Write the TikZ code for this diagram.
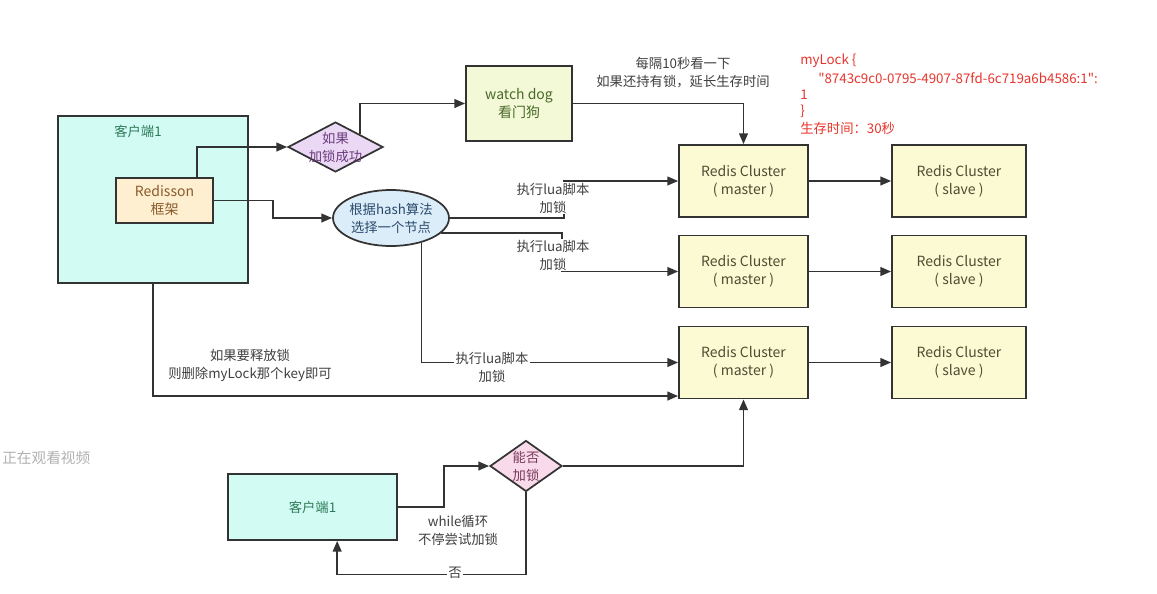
\documentclass[tikz,border=0pt]{standalone}
\usepackage{fontspec}
\setmainfont{Noto Sans CJK SC}
\newfontfamily\plainfont{Noto Sans CJK SC}[Ligatures=TeXOff]
\usetikzlibrary{shapes.geometric,arrows.meta,calc}
\definecolor{cyanfill}{HTML}{D2FBF4}
\definecolor{orfill}{HTML}{FDEFCF}
\definecolor{wdfill}{HTML}{F3F8D6}
\definecolor{ylfill}{HTML}{FCFAD2}
\definecolor{purfill}{HTML}{EBD8F4}
\definecolor{pinkfill}{HTML}{F8DAEA}
\definecolor{elfill}{HTML}{DCEDFA}
\definecolor{linec}{HTML}{333333}
\definecolor{redtxt}{HTML}{E8352C}
\definecolor{greentxt}{HTML}{2E7A58}
\definecolor{browntxt}{HTML}{8A5A2C}
\definecolor{purtxt}{HTML}{6B3A7C}
\definecolor{wdtxt}{HTML}{4A6A2A}
\definecolor{bluetxt}{HTML}{2B4A6B}
\definecolor{ctxt}{HTML}{4D4D33}
\definecolor{pinktxt}{HTML}{7A3A5C}
\tikzset{
  box/.style={draw=linec, line width=1.3pt, inner sep=0pt},
  txt/.style={font=\fontsize{10}{13.5}\selectfont, align=center, text=black!75},
  ctx/.style={font=\fontsize{10.5}{13.5}\selectfont, align=center},
  arr/.style={draw=linec, line width=1.3pt, -{Triangle[length=8pt,width=6.5pt]}},
  lbl/.style={txt, fill=white, inner sep=1pt},
  red/.style={font=\plainfont\fontsize{10}{13}\selectfont, text=redtxt, anchor=west, inner sep=0pt},
}
\begin{document}
\begin{tikzpicture}[x=0.75pt,y=-0.75pt]
\useasboundingbox (0,0) rectangle (1157,593);
\fill[white] (0,0) rectangle (1157,593);

% client 1 with Redisson
\node[box, fill=cyanfill, minimum width=142.5pt, minimum height=125.25pt] (cl) at (153,199.5) {};
\node[txt, text=greentxt] (clt) at (138,131) {客户端1};
\node[box, fill=orfill, minimum width=72.75pt, minimum height=33.75pt, ctx, text=browntxt] (red) at (164.5,200.5) {Redisson\\框架};

% diamond 1
\node[box, diamond, fill=purfill, minimum width=71.25pt, minimum height=37.5pt] (d1) at (335.5,147) {};
\node[txt, text=purtxt] (d1t) at (d1.center) {如果\\加锁成功};

% watch dog
\node[box, fill=wdfill, minimum width=79.5pt, minimum height=56.25pt, ctx, text=wdtxt] (wd) at (519,103.5) {watch dog\\看门狗};

% ellipse
\node[box, ellipse, fill=elfill, minimum width=87pt, minimum height=42pt] (el) at (391,218) {};
\node[txt, text=bluetxt] (elt) at (el.center) {根据hash算法\\选择一个节点};

% masters and slaves
\foreach \i/\y in {1/181,2/271.5,3/362.5}{
  \node[box, fill=ylfill, minimum width=96.75pt, minimum height=54pt, ctx, text=ctxt] (m\i) at (743.5,\y) {Redis Cluster\\( master )};
  \node[box, fill=ylfill, minimum width=100.5pt, minimum height=54pt, ctx, text=ctxt] (s\i) at (959,\y) {Redis Cluster\\( slave )};
  \draw[arr] (m\i.east) -- (s\i.west);
}

% client 2 and diamond 2
\node[box, fill=cyanfill, minimum width=126.75pt, minimum height=49.5pt, txt, text=greentxt] (c2) at (312.5,507) {客户端1};
\node[box, diamond, fill=pinkfill, minimum width=54pt, minimum height=38.25pt] (d2) at (526,466) {};
\node[txt, text=pinktxt] (d2t) at (d2.center) {能否\\加锁};

% connectors
\draw[arr] ([xshift=24.4pt]red.north) |- (d1.west);
\draw[arr] (d1.north east) |- (wd.west);
\draw[arr] (wd.east) -| (m1.north);
\draw[arr] (red.east) -- ++(59,0) |- (el.west);
\draw[arr] (el.east) -- ++(114,0) |- (m1.west);
\node[lbl] (l1) at (553,198) {执行lua脚本\\加锁};
\draw[arr] (el.-17) -- ++(121,0) |- (m2.west);
\node[lbl] (l2) at (553,255) {执行lua脚本\\加锁};
\draw[arr] (el.-39) |- (m3.west);
\node[lbl] (l3) at (492,367) {执行lua脚本\\加锁};
\draw[arr] (cl.south) |- ([yshift=2.5pt]m3.south west);
\draw[arr] (c2.east) -- ++(46,0) |- (d2.west);
\draw[arr] (d2.east) -| (m3.south);
\draw[arr] (d2.south) -- ++(0,82) -| ([xshift=18.5pt]c2.south);
\node[lbl] (no) at (455,573) {否};

% free labels
\node[txt] (wdl) at (683,73) {每隔10秒看一下\\如果还持有锁，延长生存时间};
\node[txt] (rel) at (250,365) {如果要释放锁\\则删除myLock那个key即可};
\node[txt] (wh) at (458,530) {while循环\\不停尝试加锁};

% red text
\node[red] (r1) at (800,61) {myLock {\char`\{}};
\node[red] (r2) at (818,78) {"8743c9c0-0795-4907-87fd-6c719a6b4586:1":};
\node[red] (r3) at (800,95) {1};
\node[red] (r4) at (800,111) {\char`\}};
\node[red] (r5) at (800,128) {生存时间：30秒};

% overlay text
\node[font=\fontsize{11}{13}\selectfont, text=black!30, anchor=west, inner sep=0pt] (ov) at (2,458) {正在观看视频};
\end{tikzpicture}
\end{document}
